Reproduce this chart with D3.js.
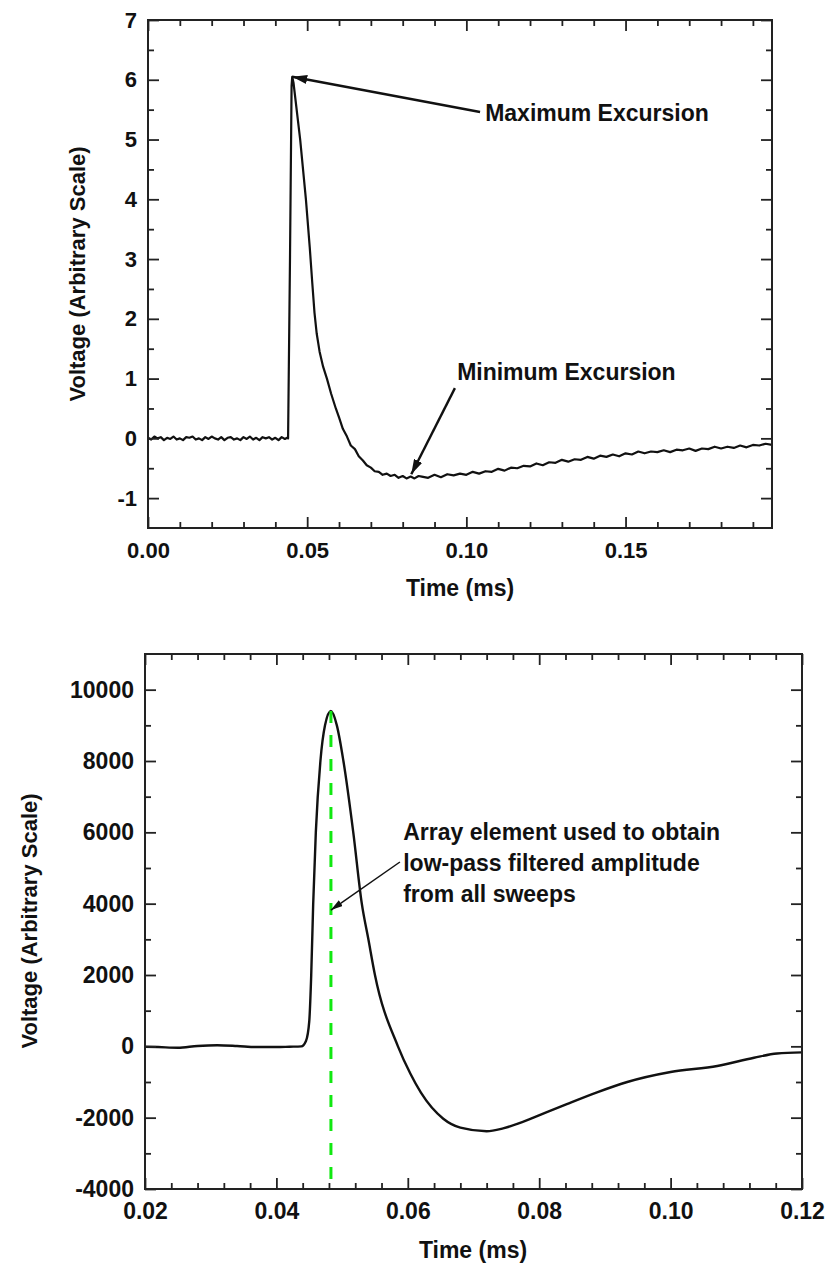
<!DOCTYPE html>
<html>
<head>
<meta charset="utf-8">
<script src="https://cdn.jsdelivr.net/npm/d3@7"></script>
<style>
  body { margin: 0; background: #fff; }
  svg text { font-family: "Liberation Sans", Arial, sans-serif; font-weight: bold; fill: #111; }
</style>
</head>
<body>
<svg id="chart" width="830" height="1266"></svg>
<script>
// ---- top panel: single sweep (ms, arbitrary volts) ----
var topTime = [
  0.000,0.001,0.002,0.003,0.004,0.005,0.006,0.007,0.008,0.009,
  0.010,0.011,0.012,0.013,0.014,0.015,0.016,0.017,0.018,0.019,
  0.020,0.021,0.022,0.023,0.024,0.025,0.026,0.027,0.028,0.029,
  0.030,0.031,0.032,0.033,0.034,0.035,0.036,0.037,0.038,0.039,
  0.040,0.041,0.042,0.043,0.0437,
  0.0440,0.0446,0.0451,0.0453,0.0457,0.0478,0.0496,0.0508,0.0516,0.0523,
  0.0530,0.0539,0.0550,0.0562,0.0575,0.0590,
  0.0600,0.0612,0.0625,0.0637,0.0650,0.0662,0.0675,0.0687,0.0700,0.0712,
  0.0725,0.0737,0.0750,0.0762,0.0775,0.0787,0.0800,0.0812,0.0825,0.0837,0.0850,
  0.086,0.088,0.090,0.092,0.094,0.096,0.098,0.100,0.102,0.104,
  0.106,0.108,0.110,0.112,0.114,0.116,0.118,0.120,0.122,0.124,
  0.126,0.128,0.130,0.132,0.134,0.136,0.138,0.140,0.142,0.144,
  0.146,0.148,0.150,0.152,0.154,0.156,0.158,0.160,0.162,0.164,
  0.166,0.168,0.170,0.172,0.174,0.176,0.178,0.180,0.182,0.184,
  0.186,0.188,0.190,0.192,0.194,0.196
];
var topVolt = [
  0.01,-0.02,0.03,0.00,0.02,-0.03,0.01,-0.01,0.03,-0.02,
  0.00,-0.03,0.02,0.01,0.03,-0.02,0.00,-0.03,0.02,-0.01,
  0.03,0.00,-0.02,0.02,-0.03,0.01,0.02,-0.02,0.00,-0.03,
  0.02,-0.01,0.03,-0.02,0.01,-0.03,0.02,0.00,0.02,-0.02,
  0.01,-0.03,0.02,-0.01,0.01,
  0.00,3.00,5.90,6.05,5.95,5.00,4.00,3.20,2.60,2.10,
  1.75,1.45,1.20,1.00,0.75,0.50,
  0.35,0.16,0.03,-0.12,-0.18,-0.30,-0.37,-0.45,-0.49,-0.55,
  -0.56,-0.61,-0.59,-0.63,-0.61,-0.66,-0.63,-0.67,-0.64,-0.67,-0.63,
  -0.64,-0.66,-0.61,-0.65,-0.60,-0.62,-0.59,-0.61,-0.56,-0.59,
  -0.55,-0.56,-0.51,-0.54,-0.49,-0.50,-0.46,-0.47,-0.42,-0.45,
  -0.40,-0.41,-0.36,-0.39,-0.35,-0.36,-0.31,-0.34,-0.29,-0.31,
  -0.27,-0.30,-0.25,-0.27,-0.22,-0.25,-0.22,-0.23,-0.20,-0.23,
  -0.19,-0.20,-0.17,-0.21,-0.17,-0.18,-0.14,-0.17,-0.14,-0.16,
  -0.12,-0.15,-0.11,-0.12,-0.09,-0.11
];
var topXMajor = [0, 0.05, 0.10, 0.15];
var topXMinor = [0.01,0.02,0.03,0.04,0.06,0.07,0.08,0.09,0.11,0.12,0.13,0.14,0.16,0.17,0.18,0.19];
var topYMajor = [-1, 0, 1, 2, 3, 4, 5, 6, 7];
var topYMinor = [-0.5, 0.5, 1.5, 2.5, 3.5, 4.5, 5.5, 6.5];

// ---- bottom panel: low-pass filtered average ----
var botTime = [
  0.020,0.022,0.025,0.028,0.031,0.034,0.037,0.040,0.042,0.0438,
  0.0445,0.0450,0.0453,0.0456,0.0460,0.0467,0.0474,0.0483,0.0492,0.0502,
  0.0517,0.0530,0.0540,0.0550,0.0585,0.0604,0.0620,0.0654,0.0680,0.0720,
  0.0745,0.0775,0.0807,0.0842,0.0888,0.0934,0.1000,0.1071,0.1127,0.1162,0.1200
];
var botVolt = [
  -10,-20,-40,10,30,10,-20,-20,-10,0,
  150,700,2000,4000,6000,8000,9000,9400,9000,8000,
  6000,4000,3000,2000,0,-770,-1300,-2030,-2280,-2380,
  -2300,-2120,-1880,-1620,-1290,-1000,-720,-550,-320,-200,-170
];
var botXMajor = [0.02, 0.04, 0.06, 0.08, 0.10, 0.12];
var botXMinor = [0.024,0.028,0.032,0.036,0.044,0.048,0.052,0.056,0.064,0.068,0.072,0.076,
                 0.084,0.088,0.092,0.096,0.104,0.108,0.112,0.116];
var botYMajor = [-4000, -2000, 0, 2000, 4000, 6000, 8000, 10000];
var botYMinor = [-3000, -1000, 1000, 3000, 5000, 7000, 9000];
var markerTime = 0.0483;   // array element used for amplitude
var markerRange = [9400, -4000];

var svg = d3.select("#chart");
var FONT = "'Liberation Sans', Arial, sans-serif";
var plainNum = function(d){ return String(d); };   // keeps the hyphen minus

var defs = svg.append("defs");
function addHead(id, len, wid)
{
  defs.append("marker")
    .attr("id", id)
    .attr("markerUnits", "userSpaceOnUse")
    .attr("viewBox", "0 0 " + len + " " + wid)
    .attr("refX", len).attr("refY", wid / 2)
    .attr("markerWidth", len).attr("markerHeight", wid)
    .attr("orient", "auto")
    .append("path")
    .attr("d", "M0,0L" + len + "," + (wid / 2) + "L0," + wid + "Z")
    .attr("fill", "#111");
}
addHead("headBig", 15, 9);
addHead("headSmall", 12, 7);

function drawFrame(g, x, y, xMajor, xMinor, yMajor, yMinor, fmtX, fmtY, fontSize)
{
  var r = x.range(), b = y.range();
  // bottom (labelled) + top (mirror)
  g.append("g").attr("transform", "translate(0," + b[0] + ")")
    .call(d3.axisBottom(x).tickValues(xMinor).tickSize(-6).tickFormat(""));
  g.append("g").attr("transform", "translate(0," + b[0] + ")")
    .call(d3.axisBottom(x).tickValues(xMajor).tickSize(-11).tickPadding(14).tickFormat(fmtX))
    .selectAll("text").attr("dy", "0.71em");
  g.append("g").attr("transform", "translate(0," + b[1] + ")")
    .call(d3.axisTop(x).tickValues(xMinor).tickSize(-6).tickFormat(""));
  g.append("g").attr("transform", "translate(0," + b[1] + ")")
    .call(d3.axisTop(x).tickValues(xMajor).tickSize(-11).tickFormat(""));
  // left (labelled) + right (mirror)
  g.append("g").attr("transform", "translate(" + r[0] + ",0)")
    .call(d3.axisLeft(y).tickValues(yMinor).tickSize(-6).tickFormat(""));
  g.append("g").attr("transform", "translate(" + r[0] + ",0)")
    .call(d3.axisLeft(y).tickValues(yMajor).tickSize(-11).tickPadding(11).tickFormat(fmtY));
  g.append("g").attr("transform", "translate(" + r[1] + ",0)")
    .call(d3.axisRight(y).tickValues(yMinor).tickSize(-6).tickFormat(""));
  g.append("g").attr("transform", "translate(" + r[1] + ",0)")
    .call(d3.axisRight(y).tickValues(yMajor).tickSize(-11).tickFormat(""));
  g.selectAll(".domain").remove();
  g.selectAll(".tick line").attr("stroke", "#222").attr("stroke-width", 1.8);
  g.selectAll(".tick text")
    .attr("fill", "#111")
    .attr("font-size", fontSize)
    .attr("font-family", FONT)
    .attr("font-weight", "bold");
  g.append("rect")
    .attr("x", r[0]).attr("y", b[1])
    .attr("width", r[1] - r[0]).attr("height", b[0] - b[1])
    .attr("fill", "none").attr("stroke", "#222").attr("stroke-width", 2);
}

// ================= top panel =================
var x1 = d3.scaleLinear().domain([0, 0.196]).range([148, 772]);
var y1 = d3.scaleLinear().domain([-1.5, 7]).range([528, 20]);
var gTop = svg.append("g");

gTop.append("path")
  .datum(d3.zip(topTime, topVolt))
  .attr("fill", "none").attr("stroke", "#111").attr("stroke-width", 2.2)
  .attr("stroke-linejoin", "round")
  .attr("d", d3.line().x(function(d){ return x1(d[0]); }).y(function(d){ return y1(d[1]); }));

drawFrame(gTop, x1, y1, topXMajor, topXMinor, topYMajor, topYMinor, d3.format(".2f"), plainNum, 22);

gTop.append("text").attr("x", 460).attr("y", 596).attr("text-anchor", "middle")
  .style("font-size", "23px").text("Time (ms)");
gTop.append("text").attr("transform", "translate(85,274) rotate(-90)").attr("text-anchor", "middle")
  .style("font-size", "22px").text("Voltage (Arbitrary Scale)");

// annotations
gTop.append("line")
  .attr("x1", x1(0.1043)).attr("y1", y1(5.46)).attr("x2", x1(0.0453)).attr("y2", y1(6.05))
  .attr("stroke", "#111").attr("stroke-width", 2.4).attr("marker-end", "url(#headBig)");
gTop.append("text").attr("x", x1(0.1059)).attr("y", y1(5.31))
  .style("font-size", "23px").text("Maximum Excursion");
gTop.append("line")
  .attr("x1", x1(0.0964)).attr("y1", y1(0.84)).attr("x2", x1(0.0827)).attr("y2", y1(-0.60))
  .attr("stroke", "#111").attr("stroke-width", 2.4).attr("marker-end", "url(#headBig)");
gTop.append("text").attr("x", x1(0.0971)).attr("y", y1(0.98))
  .style("font-size", "23px").text("Minimum Excursion");

// ================= bottom panel =================
var x2 = d3.scaleLinear().domain([0.02, 0.12]).range([145, 802]);
var y2 = d3.scaleLinear().domain([-4000, 11000]).range([1189, 654]);
var gBot = svg.append("g");

gBot.append("path")
  .datum(d3.zip(botTime, botVolt))
  .attr("fill", "none").attr("stroke", "#111").attr("stroke-width", 2.4)
  .attr("d", d3.line().curve(d3.curveMonotoneX)
    .x(function(d){ return x2(d[0]); }).y(function(d){ return y2(d[1]); }));

gBot.append("line")
  .attr("x1", x2(markerTime)).attr("x2", x2(markerTime))
  .attr("y1", y2(markerRange[0])).attr("y2", y2(markerRange[1]))
  .attr("stroke", "#11e811").attr("stroke-width", 3).attr("stroke-dasharray", "12,12");

drawFrame(gBot, x2, y2, botXMajor, botXMinor, botYMajor, botYMinor, d3.format(".2f"), plainNum, 23);

gBot.append("text").attr("x", 473).attr("y", 1258).attr("text-anchor", "middle")
  .style("font-size", "23px").text("Time (ms)");
gBot.append("text").attr("transform", "translate(37,921) rotate(-90)").attr("text-anchor", "middle")
  .style("font-size", "22px").text("Voltage (Arbitrary Scale)");

gBot.append("line")
  .attr("x1", x2(0.0588)).attr("y1", y2(5168)).attr("x2", x2(0.0483)).attr("y2", y2(3822))
  .attr("stroke", "#111").attr("stroke-width", 1.5).attr("marker-end", "url(#headSmall)");
var noteLines = ["Array element used to obtain", "low-pass filtered amplitude", "from all sweeps"];
var noteY = [5785, 4916, 4047];
gBot.selectAll("text.note").data(noteLines).enter().append("text")
  .attr("class", "note")
  .attr("x", x2(0.0593)).attr("y", function(d, i){ return y2(noteY[i]); })
  .style("font-size", "23px").text(function(d){ return d; });
</script>
</body>
</html>
